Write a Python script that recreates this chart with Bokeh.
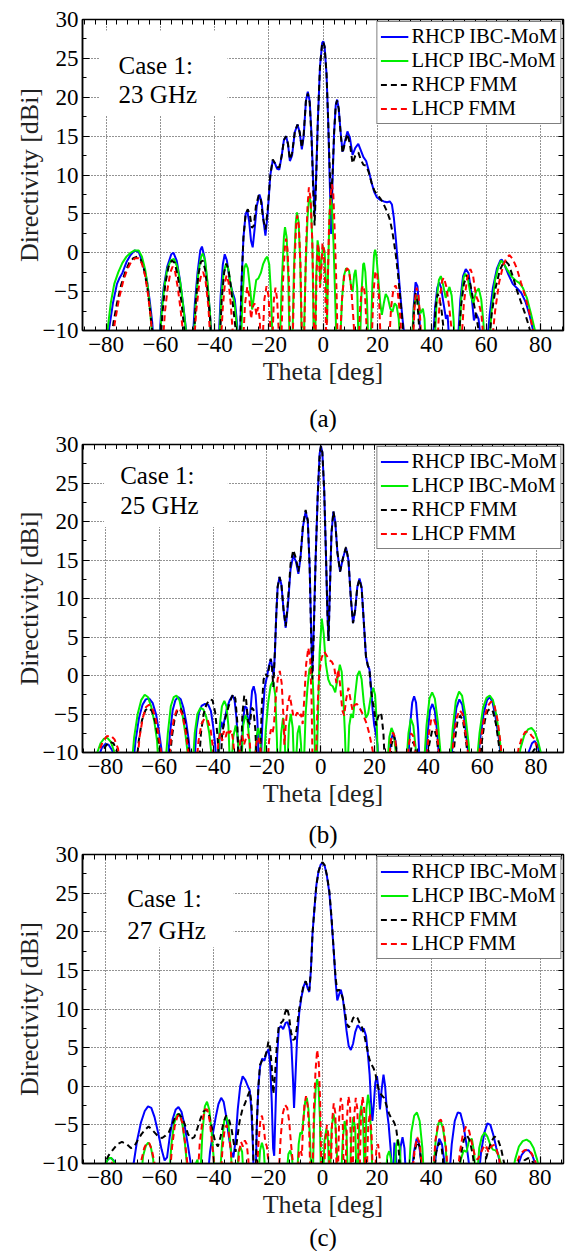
from bokeh.plotting import figure
from bokeh.models import (Legend, LegendItem, Label, BoxAnnotation, Title,
                          LinearAxis, FixedTicker, Range1d)
from bokeh.layouts import column
from bokeh.embed import file_html
from bokeh.resources import INLINE

FONT = "Liberation Serif"

# ---------------- data (theta [deg], directivity [dBi]) ----------------
A_RHCP_MOM = [(-80,-12),(-79,-10),(-77.5,-6.5),(-76,-4),(-75,-3.2),(-74,-2.6),(-72.5,-1.2),(-71,-0.3),(-69.5,0.3),(-68,0.1),(-66.5,-1.3),(-65,-3.5),(-64,-6),(-63,-9),(-62.4,-12),
(-60.5,-12),(-59.8,-8),(-58.8,-4.5),(-57.5,-1.8),(-56,-0.2),(-55.2,0),(-54,-1),(-52.8,-3.5),(-51.5,-7),(-50.5,-10),(-50,-12),
(-48.2,-12),(-47.3,-6.5),(-46.3,-2.5),(-45.3,0.3),(-44.7,0.8),(-43.8,-0.5),(-42.8,-3.5),(-41.8,-7.5),(-41,-12),
(-38.6,-12),(-37.8,-5.5),(-37,-1.5),(-36.3,-0.2),(-35.5,-1),(-34.5,-3.5),(-33.5,-5),(-32.6,-6),(-31.8,-9),(-31.2,-12),
(-30.6,-10),(-30,-3),(-29.4,2),(-28.6,5),(-28,5.4),(-27.3,4),(-26.6,1.5),(-26,0.7),(-25.3,3),(-24.5,6),(-23.5,7.5),(-22.7,6.5),(-22,4),(-21.3,2.2),(-20.5,5),(-19.5,10),(-18.6,11.9),(-17.8,11.5),(-17,10.8),(-16.2,10.7),(-15.3,12.5),(-14.5,14.5),(-13.7,15),(-13,14),(-12.3,11.8),(-11.5,12.5),(-10.5,15.5),(-9.5,16.5),(-8.7,15.5),(-7.9,13.3),(-7.2,15),(-6.4,19.5),(-5.7,20.7),(-5,19.5),(-4.3,15),(-3.7,9),(-3.2,5),(-2.7,9),(-2,17),(-1.2,24),(-0.4,27),(0,27.2),(0.5,26.5),(1.2,23),(1.8,17),(2.4,9),(2.9,2.4),(3.4,9),(4,15.5),(4.6,19),(5.1,19.7),(5.7,18.5),(6.4,15.5),(7.1,13),(7.9,14.2),(8.9,15.6),(9.8,14.8),(10.8,12.6),(11.8,13.5),(12.9,14),(13.8,13.2),(14.8,12.3),(15.8,11.8),(16.8,10.5),(17.8,9),(18.8,7.8),(19.8,7.1),(21,6.8),(22.3,6.6),(23.5,6.5),(24.5,6.6),(25.3,6.2),(26,4.5),(26.8,1.5),(27.6,-2),(28.4,-5.5),(29.2,-8.5),(30,-11),(30.4,-12),
(32.8,-12),(33.3,-7),(34,-3.8),(34.7,-4.3),(35.3,-7),(35.9,-12),
(40.3,-12),(41.2,-7),(42,-4.5),(42.7,-3.8),(43.4,-4.5),(44.3,-6.5),(45.2,-8.5),(45.8,-8),(46.5,-12),
(49.5,-12),(50.5,-6),(51.5,-3),(52.5,-2.1),(53.5,-2.6),(54.5,-5),(55.5,-8.7),(56.3,-7.8),(57.2,-8.5),(58.3,-12),
(60.3,-12),(61.3,-8),(62.5,-4.5),(64,-2),(65.2,-1),(65.8,-0.9),(66.8,-1.6),(68.2,-2.8),(69.8,-4),(71.5,-4.6),(73,-5.2),(74.5,-6.3),(76,-8),(77.3,-10),(78,-12)]

A_LHCP_MOM = [(-80.2,-12),(-79.5,-10),(-78.3,-6.5),(-77,-4),(-75.5,-2.5),(-74,-1.3),(-72.5,-0.5),(-71,0),(-69.5,0.3),(-68,0.3),(-66.8,-0.5),(-65.6,-2.2),(-64.6,-4.5),(-63.8,-7.5),(-63.2,-10),(-62.8,-12),
(-60.3,-12),(-59.6,-8),(-58.6,-4.5),(-57.4,-2),(-56.2,-1),(-55,-0.8),(-53.8,-1.8),(-52.6,-4),(-51.4,-7.5),(-50.6,-10),(-50.3,-12),
(-47.8,-12),(-47,-6.5),(-46,-2.5),(-45,-0.5),(-44.4,-0.1),(-43.5,-1),(-42.6,-4),(-41.7,-8),(-41.2,-12),
(-38.4,-12),(-37.6,-6),(-36.7,-2.5),(-35.8,-1.4),(-35,-2),(-34.2,-4),(-33.4,-5.5),(-32.7,-6.5),(-32,-9),(-31.4,-12),
(-30.3,-12),(-29.8,-6),(-29.1,-2),(-28.5,-1.4),(-27.8,-2),(-27,-4.5),(-26.2,-7.3),(-25.5,-5.5),(-24.7,-3.5),(-23.9,-3.3),(-23,-2.6),(-22.2,-1.5),(-21.3,-0.8),(-20.6,-0.5),(-19.9,-1.5),(-19.3,-5),(-18.8,-10),(-18.5,-12),
(-16,-12),(-15.3,-4),(-14.5,2),(-14.1,3.3),(-13.5,2),(-12.9,-3),(-12.4,-12),
(-11.4,-12),(-10.8,-2),(-10.1,4),(-9.7,5.2),(-9.1,4),(-8.5,-1),(-7.9,-12),
(-7.2,-12),(-6.5,-2),(-5.8,4.5),(-5.2,7.3),(-4.6,6.5),(-4,1),(-3.5,-12),
(-3.0,-12),(-2.6,-3),(-2.1,1.6),(-1.6,0.5),(-1.1,-4),(-0.7,-1),(-0.1,0.8),(0.5,0.2),(1,-4),(1.4,-9),(1.8,-2),(2.3,5),(2.7,7.2),(3.2,6),(3.8,1),(4.4,-6),(4.9,-12),
(6.2,-12),(6.9,-6),(7.6,-3),(8.4,-2),(9.5,-2.3),(10.3,-4.5),(10.8,-5),(11.4,-2.8),(11.9,-2.2),(12.5,-4.5),(13,-12),
(13.5,-12),(14.1,-5),(14.7,-1.5),(15,-1.3),(15.5,-2.5),(16.1,-6),(16.6,-12),
(17.4,-12),(18.1,-4),(18.7,-0.3),(19.1,0.4),(19.6,-0.5),(20.3,-3.5),(21,-6.5),(21.6,-8),(22.3,-6.5),(23,-5.3),(23.8,-5.8),(24.7,-7.2),(25.5,-7.6),(26.3,-6.5),(27,-6.8),(27.8,-8.5),(28.4,-12),
(32.5,-12),(33.4,-7),(34.2,-5.5),(35,-6.5),(35.8,-7.8),(36.7,-7.2),(37.3,-8.5),(37.7,-12),
(41,-12),(41.8,-6),(42.6,-3.5),(43.3,-3),(44.2,-4.2),(45.1,-5.8),(45.8,-5),(46.5,-4.4),(47.3,-5.5),(48,-8.5),(48.4,-12),
(50,-12),(50.8,-6),(51.7,-3.2),(52.3,-2.7),(53.2,-3.2),(54.3,-5.5),(55.3,-6.5),(56.3,-5),(57.3,-4.6),(58.2,-6),(59,-9),(59.5,-12),
(61,-12),(62,-7.5),(63.3,-3.5),(64.5,-1.8),(65.5,-1),(66.5,-1.4),(68,-2.3),(69.5,-3.1),(71,-3.6),(72.3,-3.9),(73.5,-4.5),(75,-5.8),(76.5,-7.8),(78,-10),(78.7,-12)]

A_RHCP_FMM = [(-78.3,-12),(-77.3,-9),(-76,-6.5),(-74.5,-4.2),(-73,-2.5),(-71.5,-1.3),(-70,-0.7),(-68.5,-0.5),(-67.2,-0.9),(-66,-2.2),(-64.8,-4.5),(-63.8,-7.5),(-63,-10),(-62.5,-12),
(-60,-12),(-59.3,-8),(-58.2,-4),(-57,-1.8),(-55.8,-1.0),(-54.7,-1.3),(-53.5,-3.2),(-52.3,-6.2),(-51.3,-9.5),(-50.8,-12),
(-47.8,-12),(-47,-6.5),(-46,-2.8),(-45.1,-1.2),(-44.4,-1.0),(-43.5,-2.2),(-42.6,-5),(-41.7,-8.5),(-41.2,-12),
(-38.2,-12),(-37.4,-6),(-36.5,-2.5),(-35.7,-1.4),(-34.9,-2.2),(-34,-4.5),(-33.2,-7),(-32.4,-9.5),(-31.9,-12),
(-30.6,-10),(-30,-3),(-29.4,2),(-28.6,5),(-27.8,5.6),(-27,4.8),(-26.3,3.2),(-25.6,3.5),(-24.8,6),(-23.8,7.4),(-23,6.8),(-22.2,4.5),(-21.3,3),(-20.5,5.5),(-19.5,10),(-18.6,12),(-17.8,11.5),(-17,11),(-16.2,11),(-15.3,12.5),(-14.5,14.5),(-13.7,15),(-13,14),(-12.3,12),(-11.5,12.8),(-10.5,15.5),(-9.5,16.5),(-8.7,15.5),(-7.9,13.5),(-7.2,15.3),(-6.4,19.5),(-5.7,20.5),(-5,19.3),(-4.3,14.5),(-3.7,8),(-3.2,3.5),(-2.7,8.5),(-2,17),(-1.2,24),(-0.4,27),(0,27.1),(0.5,26.5),(1.2,23),(1.8,17),(2.4,10.5),(2.9,7),(3.4,10),(4,15.5),(4.6,19),(5.1,19.6),(5.7,18.5),(6.4,15.3),(7.1,12.8),(7.9,14),(8.9,15.3),(9.8,14),(10.8,11.5),(11.8,12.5),(12.9,12.9),(13.8,12),(14.8,11.3),(15.8,11.2),(16.8,10.3),(17.8,9),(18.8,8),(19.8,7.5),(21,7),(22.3,6.2),(23.5,5.3),(24.5,4.3),(25.3,3),(26,1.5),(26.8,-0.5),(27.6,-3),(28.4,-6),(29.2,-9),(29.8,-12),
(32.8,-12),(33.4,-7.5),(34,-5.2),(34.6,-6),(35.2,-9),(35.5,-12),
(40.6,-12),(41.4,-7),(42.1,-5.3),(42.8,-5.8),(43.6,-7.5),(44.4,-10),(44.8,-12),
(49.8,-12),(50.7,-7),(51.8,-4),(52.9,-2.9),(53.9,-3.5),(55.2,-6),(56.5,-8.5),(57.5,-10.5),(58,-12),
(61,-12),(62,-8),(63.5,-4.5),(65,-2.3),(66.3,-1.3),(67.2,-1.1),(68.3,-1.5),(69.8,-3),(71.3,-4.8),(72.8,-6.3),(74.3,-7.8),(75.8,-9.5),(76.8,-11),(77.2,-12)]

A_LHCP_FMM = [(-77.8,-12),(-76.8,-9),(-75.3,-6),(-73.8,-3.8),(-72.3,-2.2),(-70.8,-1.2),(-69.3,-0.7),(-68,-0.7),(-66.8,-1.4),(-65.6,-3),(-64.5,-5.5),(-63.5,-8.5),(-62.8,-12),
(-59.2,-12),(-58.3,-7.5),(-57.3,-4.5),(-56.3,-2.5),(-55.5,-1.8),(-54.6,-2.4),(-53.6,-4.5),(-52.5,-7.5),(-51.6,-10.5),(-51.2,-12),
(-47.7,-12),(-46.8,-7.5),(-45.7,-4),(-44.8,-2.6),(-44.2,-2.5),(-43.3,-3.8),(-42.3,-7),(-41.5,-12),
(-37.8,-12),(-37,-7),(-36.2,-3.8),(-35.6,-2.9),(-34.9,-3.8),(-34.1,-6.5),(-33.5,-9.5),(-33.1,-12),
(-29.6,-12),(-28.8,-6.5),(-28,-4.4),(-27.3,-5.5),(-26.6,-8.5),(-26,-7),(-25.3,-6.5),(-24.6,-8),(-24,-7),(-23.4,-8.5),(-23,-12),
(-22.4,-12),(-21.7,-6),(-20.9,-4.3),(-20.2,-5.5),(-19.6,-9),(-19.3,-12),
(-18.8,-12),(-18.2,-6),(-17.6,-4.5),(-17,-6),(-16.5,-9.5),(-16.2,-12),
(-15.5,-12),(-14.8,-3.5),(-14.1,1),(-13.7,1.8),(-13.2,0.5),(-12.6,-4),(-12.2,-12),
(-11.3,-12),(-10.6,-1.5),(-10,3.5),(-9.6,4.8),(-9,3.5),(-8.4,-1.5),(-7.8,-12),
(-7.1,-12),(-6.4,0),(-5.8,6),(-5.3,8.4),(-4.7,7),(-4.1,2),(-3.6,-6),(-3.3,-12),
(-2.9,-12),(-2.5,-3),(-2,1.2),(-1.6,0),(-1.2,-4.5),(-0.8,-3),(-0.3,1.2),(0.2,0.5),(0.7,-4),(1.1,-12),
(1.5,-6),(2.1,3),(2.7,7.5),(3.2,8.8),(3.7,7.5),(4.3,2),(4.9,-5),(5.3,-12),
(6.1,-12),(6.9,-6),(7.7,-3),(8.7,-2),(9.5,-2.3),(10.3,-4.5),(11.2,-9),(11.6,-12),
(13,-12),(13.6,-7),(14.2,-4.6),(14.8,-4.2),(15.4,-5.5),(16,-10),(16.2,-12),
(17.8,-12),(18.5,-5),(19.2,-2.4),(19.8,-2.5),(20.5,-5.5),(21.2,-12),
(24.2,-12),(25,-7),(25.8,-4.8),(26.6,-4.2),(27.4,-5),(28.3,-8),(29,-12),
(33,-12),(33.7,-6.5),(34.4,-4.5),(35.1,-5.5),(35.8,-9),(36.1,-12),
(42,-12),(42.9,-6),(43.8,-3.6),(44.4,-3.2),(45.3,-4.3),(46.4,-7),(47.3,-10),(47.7,-12),
(50.8,-12),(51.8,-6.5),(53,-3.3),(54.2,-2.1),(55.2,-3),(56.2,-5.5),(57.2,-6.3),(58.3,-8),(59.2,-12),
(62,-12),(63.3,-7.5),(64.8,-3.8),(66.3,-1.6),(67.6,-0.6),(68.6,-0.3),(69.8,-0.8),(71.3,-2),(72.8,-3.8),(74.3,-5.5),(75.8,-7.5),(77.3,-10),(77.8,-12)]

B_RHCP_MOM = [(-83.5,-12),(-82.5,-10.5),(-81.3,-9.4),(-80,-8.9),(-78.8,-9),(-77.5,-9.7),(-76.3,-11),(-75.8,-12),
(-69.8,-12),(-68.8,-8.5),(-67.5,-5.5),(-66.2,-3.8),(-65,-3.1),(-63.7,-3),(-62.4,-3.6),(-61.2,-5),(-60.2,-7),(-59.2,-9.5),(-58.7,-12),
(-57,-12),(-56,-7.5),(-55,-4.5),(-54,-3.2),(-53,-2.8),(-52,-3.1),(-51,-4.2),(-50,-6),(-49,-8.5),(-48.3,-12),
(-47,-12),(-46.2,-7),(-45.2,-4.8),(-44.2,-3.9),(-43,-3.7),(-41.8,-3.8),(-40.8,-4.6),(-40,-6.5),(-39.2,-9),(-38.7,-12),
(-38.1,-12),(-37.5,-7.5),(-36.9,-6),(-36.3,-6.8),(-35.6,-5.5),(-34.8,-4.2),(-33.8,-3.2),(-32.8,-2.6),(-32,-3.2),(-31.3,-5.5),(-30.7,-9),(-30.3,-12),
(-29.6,-12),(-28.9,-6),(-28.2,-4),(-27.5,-4.2),(-26.8,-6.8),(-26.2,-5),(-25.5,-2),(-24.9,-1.4),(-24.2,-2.5),(-23.5,-6),(-23,-12),
(-22.3,-12),(-21.6,-5.5),(-20.8,-1.5),(-20,-0.2),(-19.2,1.3),(-18.5,2.1),(-18,1),(-17.5,0),(-17,3),(-16.5,8),(-16,11.5),(-15.3,12.8),(-14.6,11.8),(-13.8,8.5),(-13,6.2),(-12.2,9),(-11.2,13.8),(-10.2,15.6),(-9.2,14.8),(-8.3,13.2),(-7.5,15.3),(-6.6,19.3),(-5.6,21.3),(-4.8,20),(-4.1,14),(-3.5,5),(-3.1,0.5),(-2.6,6),(-1.9,15),(-1.1,23.5),(-0.4,28.8),(0.1,29.8),(0.6,29),(1.3,24),(2,15),(2.5,8),(2.9,4.5),(3.4,11),(4,18.5),(4.7,21.3),(5.4,20),(6.2,16),(7.2,13.5),(8.3,15.3),(9.4,16.6),(10.3,15),(11.2,10),(12,6.8),(12.8,8.5),(13.6,11.5),(14.4,12.6),(15.2,11.5),(16,7),(16.8,2.5),(17.5,1.3),(18.1,0.8),(18.7,-1.5),(19.3,-4.5),(19.9,-6.5),(20.5,-7.5),(21.1,-9),(21.5,-12),
(25.3,-12),(26,-8.5),(26.9,-7.5),(27.8,-8.5),(28.6,-12),
(32.4,-12),(33.2,-6.5),(34,-3.5),(34.7,-2.7),(35.4,-3.5),(36.2,-7),(36.8,-12),
(38.8,-12),(39.7,-7.5),(40.6,-4.5),(41.5,-3.7),(42.4,-4.6),(43.3,-7.5),(44.2,-12),
(48.3,-12),(49.3,-7.5),(50.4,-4.2),(51.5,-3.1),(52.6,-3.8),(53.7,-6.5),(54.8,-10),(55.3,-12),
(58.2,-12),(59.3,-8),(60.6,-4.8),(61.8,-3.2),(62.8,-2.8),(63.8,-3.4),(65,-5.5),(66.3,-8.5),(67.3,-12),
(76.2,-12),(77.2,-10),(78.5,-8.8),(79.5,-8.5),(80.5,-9),(81.5,-10.5),(82.2,-12)]

B_LHCP_MOM = [(-84,-12),(-83,-10),(-81.8,-8.8),(-80.5,-8.2),(-79.3,-8.1),(-78,-8.6),(-76.8,-9.8),(-76,-12),
(-70.3,-12),(-69.3,-8),(-68,-5),(-66.7,-3.2),(-65.4,-2.5),(-64.2,-2.8),(-63,-4),(-61.8,-6),(-60.8,-8.5),(-60.2,-12),
(-57.8,-12),(-56.8,-7.5),(-55.7,-4),(-54.6,-2.8),(-53.6,-2.6),(-52.5,-3.2),(-51.4,-5),(-50.3,-7.5),(-49.3,-10.5),(-48.9,-12),
(-47.6,-12),(-46.8,-7.5),(-45.8,-5),(-44.7,-4.2),(-43.6,-4.4),(-42.5,-5.4),(-41.4,-7.5),(-40.5,-10.5),(-40.1,-12),
(-38.3,-12),(-37.5,-6.5),(-36.7,-4),(-35.8,-3.3),(-35,-4),(-34.3,-6.5),(-33.7,-12),
(-33.2,-12),(-32.5,-8),(-31.6,-6.5),(-30.8,-8),(-30.2,-12),
(-29.5,-12),(-28.8,-6.5),(-28,-5.2),(-27.2,-5.8),(-26.5,-8.5),(-26,-12),
(-24.6,-12),(-23.9,-8),(-23.2,-6.8),(-22.5,-8),(-21.9,-12),
(-21.2,-12),(-20.4,-7),(-19.5,-3.5),(-18.6,-1.3),(-17.7,-0.7),(-16.9,-2.5),(-16.3,-8),(-16,-12),
(-15.3,-12),(-14.7,-7.5),(-14,-5.5),(-13.4,-8),(-13,-12),
(-12.4,-12),(-11.8,-6.5),(-11.1,-5),(-10.4,-6.8),(-9.9,-12),
(-9.3,-12),(-8.6,-7.5),(-7.9,-6.5),(-7.3,-9),(-7,-12),
(-6.3,-12),(-5.6,-5),(-4.9,-1.5),(-4.2,0.8),(-3.5,1.2),(-2.9,-1),(-2.4,-6),(-2,-12),
(-1.5,-12),(-1,-5),(-0.4,3),(0.4,7.4),(1.1,5.5),(1.9,1.5),(2.8,-0.5),(3.6,-1.2),(4.5,-1.4),(5.4,-2.2),(6.2,-0.5),(7.1,1.4),(7.8,0.5),(8.4,-3),(9,-7.5),(9.4,-12),
(10,-12),(10.6,-6.5),(11.3,-5),(12,-5.5),(12.8,-2.5),(13.6,0),(14.4,0.6),(15.2,-0.5),(16,-3.5),(16.8,-5.5),(17.6,-5),(18.5,-3),(19.5,-1.6),(20.2,-2.5),(20.8,-6),(21.3,-12),
(24.7,-12),(25.5,-8),(26.3,-6.8),(27.1,-7.5),(27.9,-10),(28.2,-12),
(31.7,-12),(32.6,-7.5),(33.5,-5.6),(34.4,-6.5),(35.3,-9.5),(35.7,-12),
(38.3,-12),(39.3,-6.5),(40.4,-3),(41.4,-2.2),(42.4,-3),(43.5,-6),(44.5,-10),(44.9,-12),
(48,-12),(49,-7),(50.2,-3.3),(51.4,-2.1),(52.5,-2.6),(53.7,-5),(55,-9),(55.5,-12),
(57.8,-12),(59,-7.5),(60.3,-4.2),(61.6,-2.9),(62.8,-2.6),(64,-3.2),(65.3,-5.2),(66.6,-8.5),(67.5,-12),
(73,-12),(74.2,-9.5),(75.6,-7.8),(77,-7),(78.3,-6.8),(79.5,-7.3),(80.7,-8.5),(82,-10.3),(82.8,-12)]

B_RHCP_FMM = [(-82.5,-12),(-81.5,-10.5),(-80,-9.2),(-78.5,-8.6),(-77,-8.8),(-75.5,-10),(-74.8,-12),
(-68.6,-12),(-67.6,-8.5),(-66.4,-5.8),(-65.1,-4.5),(-63.9,-4.2),(-62.7,-4.6),(-61.5,-6),(-60.3,-8.3),(-59.5,-10.5),(-59,-12),
(-56.3,-12),(-55.3,-8),(-54.2,-5.5),(-53.1,-4.4),(-52,-4.3),(-50.9,-5.2),(-49.8,-7.3),(-48.8,-10),(-48.3,-12),
(-45.3,-12),(-44.5,-7.5),(-43.5,-5),(-42.5,-3.8),(-41.3,-3.1),(-40.2,-3.2),(-39.2,-4.8),(-38.3,-8),(-37.7,-12),
(-37.2,-12),(-36.6,-7.5),(-35.8,-6),(-35,-5),(-34.2,-4),(-33.3,-3),(-32.5,-2.4),(-31.7,-3),(-31,-6),(-30.5,-12),
(-29.7,-12),(-29.1,-5),(-28.4,-2.6),(-27.7,-3.2),(-27,-6),(-26.3,-6.3),(-25.6,-4.2),(-25,-4.4),(-24.3,-7),(-23.7,-12),
(-22.6,-12),(-21.9,-4),(-21.2,-0.5),(-20.5,0.2),(-19.8,-0.2),(-19.2,1),(-18.6,2.2),(-18.1,1),(-17.6,-1.5),(-17.1,2.5),(-16.5,8),(-16,11.5),(-15.3,12.8),(-14.6,11.8),(-13.8,8.5),(-13,6.4),(-12.2,9.5),(-11.2,14.5),(-10.2,16.3),(-9.2,15.2),(-8.3,13.5),(-7.5,15.5),(-6.6,19.5),(-5.6,21.5),(-4.8,20.2),(-4.1,14),(-3.5,4),(-3.1,-0.5),(-2.6,5),(-1.9,15),(-1.1,23.5),(-0.4,28.8),(0.1,29.8),(0.6,29),(1.3,24),(2,15),(2.5,8),(2.9,4.5),(3.4,11),(4,18.5),(4.7,21.3),(5.4,20),(6.2,16),(7.2,13.5),(8.3,15.3),(9.4,16.7),(10.3,15),(11.2,10),(12,6.8),(12.8,8.5),(13.6,11.5),(14.4,12.5),(15.2,11.3),(16,7),(16.8,2.5),(17.5,1.3),(18.1,0.8),(18.6,-1.5),(19.2,-3.2),(19.9,-4.5),(20.6,-6.5),(21.2,-5.5),(21.9,-4.8),(22.6,-5.2),(23.3,-7.5),(23.9,-12),
(25.6,-12),(26.3,-9),(27.2,-7.8),(28,-9),(28.6,-12),
(32.7,-12),(33.6,-9.5),(34.4,-8.6),(35.2,-9.5),(35.8,-12),
(39.4,-12),(40.3,-9),(41.3,-7.3),(42.2,-7.0),(43.1,-8),(44,-11),(44.3,-12),
(48.8,-12),(49.8,-8.5),(50.8,-6),(51.8,-5.2),(52.8,-5.8),(53.8,-8),(54.8,-11),(55.2,-12),
(58.8,-12),(59.9,-8.5),(61,-5.8),(62,-4.6),(63,-4.3),(64,-4.7),(65.1,-6.3),(66.2,-9),(67,-12),
(77,-12),(78.2,-10.3),(79.3,-9.6),(80.4,-9.5),(81.5,-10.3),(82.3,-12)]

B_LHCP_FMM = [(-83.5,-12),(-82.5,-10),(-81,-8.6),(-79.5,-7.9),(-78,-7.8),(-76.6,-8.3),(-75.3,-9.5),(-74.5,-12),
(-68.3,-12),(-67.3,-8),(-66.1,-5.5),(-64.9,-4.1),(-63.8,-3.8),(-62.6,-4.2),(-61.4,-5.5),(-60.3,-7.5),(-59.3,-10),(-58.9,-12),
(-56.5,-12),(-55.6,-8),(-54.5,-5.5),(-53.4,-4.4),(-52.4,-4.3),(-51.3,-5.2),(-50.2,-7.3),(-49.2,-10),(-48.8,-12),
(-46.3,-12),(-45.4,-8.5),(-44.3,-6.3),(-43.2,-5.6),(-42,-5.8),(-40.9,-7),(-40,-9.5),(-39.6,-12),
(-38.6,-12),(-38,-8.5),(-37.3,-7.5),(-36.6,-8.5),(-36,-7.2),(-35.3,-8),(-34.6,-7),(-33.9,-7.5),(-33.2,-7.1),(-32.5,-8.5),(-31.8,-12),
(-30.6,-12),(-29.9,-8.5),(-29.2,-7.8),(-28.5,-9),(-27.8,-8.2),(-27.1,-7.6),(-26.4,-8.5),(-25.7,-12),
(-24.6,-12),(-23.9,-8.8),(-23.2,-8),(-22.5,-9),(-21.9,-12),
(-19.8,-12),(-19.2,-8.5),(-18.5,-7),(-17.9,-7.5),(-17.4,-6.5),(-16.7,-3),(-16,-0.5),(-15.2,0.6),(-14.5,-1),(-13.9,-5),(-13.5,-9),(-13,-6.5),(-12.3,-3.8),(-11.5,-2.6),(-10.8,-4),(-10.1,-5.4),(-9.4,-5.3),(-8.7,-4.8),(-8,-5.4),(-7.3,-5),(-6.7,-6.3),(-6.1,-3),(-5.4,1.5),(-4.6,3.6),(-3.9,2),(-3.4,-3),(-3,-12),
(-1.8,-12),(-1.3,-5),(-0.6,0),(0.3,2.3),(1.3,3.1),(2.2,2.6),(3.2,2),(4.1,1.8),(5,1.2),(5.8,-1),(6.5,0.8),(7.2,-1.2),(8,-4.5),(8.7,-5.2),(9.5,-3),(10.3,-1.6),(11.1,-3.2),(11.8,-4.5),(12.6,-3.8),(13.5,-3.7),(14.4,-4.2),(15.3,-4.8),(16.2,-5.5),(17.1,-6.3),(18,-7.5),(18.9,-9),(19.7,-10.5),(20,-12),
(25.3,-12),(26,-8.5),(26.8,-7.4),(27.6,-8),(28.3,-10.5),(28.6,-12),
(32,-12),(32.8,-8.8),(33.6,-7.5),(34.4,-7.9),(35.2,-10),(35.5,-12),
(39.2,-12),(40,-8),(41,-5.8),(41.9,-5.5),(42.8,-6.5),(43.7,-9),(44.3,-12),
(48.5,-12),(49.4,-8),(50.5,-5.5),(51.6,-4.5),(52.7,-5),(53.8,-7.5),(54.9,-10.5),(55.3,-12),
(58.3,-12),(59.4,-8.5),(60.7,-5.6),(62,-4),(63.3,-3.4),(64.5,-3.8),(65.7,-5.8),(66.9,-9),(67.5,-12),
(72.3,-12),(73.5,-9.5),(74.8,-8),(76,-7.3),(77.3,-7.3),(78.3,-7.8),(79.3,-8.2),(80.3,-9.3),(81.3,-11),(81.8,-12)]

C_RHCP_MOM = [(-80.6,-12),(-79.8,-10),(-78.8,-9.4),(-77.8,-9.3),(-76.8,-9.6),(-75.8,-11),(-75.3,-12),
(-70.3,-12),(-69.5,-10),(-68.2,-7),(-66.8,-4.7),(-65.4,-3.2),(-64.2,-2.6),(-63,-2.8),(-61.8,-4),(-60.5,-6),(-59.2,-8.2),(-58.1,-9.6),(-57.2,-9.2),(-56.2,-6.5),(-55.1,-4.2),(-54,-3),(-53,-2.7),(-51.9,-3.3),(-50.8,-5),(-49.6,-7.5),(-48.5,-10),(-48,-12),
(-42.3,-12),(-41.4,-8.5),(-40.3,-6),(-39.3,-4),(-38.3,-2.3),(-37.3,-1.5),(-36.4,-2),(-35.5,-3.8),(-34.5,-6.5),(-33.6,-8.5),(-32.8,-9.2),(-32,-7),(-31.2,-3),(-30.3,0),(-29.4,1.3),(-28.4,0.8),(-27.5,0),(-26.8,-0.5),(-26.2,-3),(-25.6,-8),(-25.3,-12),
(-24.6,-12),(-24.2,-5),(-23.6,0),(-23,2.5),(-22.2,3.6),(-21.4,3.3),(-20.6,4.3),(-19.9,4.8),(-19.3,3),(-18.7,-2),(-18.2,-8),(-17.8,-9),(-17.3,-3),(-16.7,4),(-16.1,7.5),(-15.3,7.8),(-14.5,7.4),(-13.6,8.2),(-12.9,8.3),(-12.2,7.5),(-11.5,5.5),(-10.9,1),(-10.5,-2.8),(-10,1),(-9.4,6),(-8.6,9.5),(-7.8,11.5),(-6.9,13),(-6.2,13.6),(-5.5,12.7),(-4.9,12.2),(-4.3,15),(-3.7,19.8),(-3,23),(-2.3,26),(-1.5,27.8),(-0.7,28.7),(0,28.9),(0.8,28.5),(1.6,27.2),(2.5,25),(3.3,21.5),(4.1,17.5),(4.8,13.5),(5.4,11.1),(6,11.8),(6.7,12.5),(7.4,11.5),(8.1,9.5),(8.8,7.2),(9.6,5.2),(10.4,4.7),(11.2,5.5),(12,7),(12.9,7.9),(13.6,7.6),(14.3,7.2),(15.1,7.5),(16,6.5),(16.7,4),(17.3,1.5),(17.8,-2),(18.3,-4.5),(18.8,-2.5),(19.4,0.5),(20,1.3),(20.6,-0.5),(21.1,-3),(21.7,-0.5),(22.4,1.5),(23,0),(23.6,-3),(24.3,-5),(25,-8),(25.6,-12),
(25.9,-12),(26.4,-7.3),(26.9,-8.5),(27.5,-12),
(28.1,-12),(28.7,-7.8),(29.4,-6.6),(30.1,-8),(30.7,-12),
(32.6,-12),(33.6,-8.5),(34.6,-6.8),(35.5,-7.5),(36.3,-10),(36.7,-12),
(40.8,-12),(41.8,-8.5),(42.9,-6.8),(43.9,-7.5),(44.9,-10),(45.3,-12),
(46.5,-12),(47.5,-7.5),(48.6,-4.5),(49.7,-3.4),(50.7,-3.5),(51.8,-5),(52.9,-7.5),(54,-10.5),(54.4,-12),
(57.3,-12),(58.3,-8.5),(59.5,-6),(60.6,-4.8),(61.7,-5),(62.8,-6.3),(63.9,-8),(65,-9.5),(65.8,-12),
(70.5,-12),(71.8,-10.3),(73.2,-8.9),(74.5,-8.3),(75.8,-8.3),(77.1,-8.9),(78.4,-10.2),(79.2,-12)]

C_LHCP_MOM = [(-80.5,-12),(-79.7,-10),(-78.7,-9.3),(-77.7,-9.3),(-76.7,-9.8),(-76,-12),
(-66.8,-12),(-66,-9),(-65,-7.7),(-64.1,-7.3),(-63.2,-7.8),(-62.3,-9.5),(-61.8,-12),
(-56.5,-12),(-55.6,-7.5),(-54.6,-4.8),(-53.6,-3.7),(-52.6,-3.6),(-51.6,-4.8),(-50.6,-7.5),(-49.8,-10.5),(-49.4,-12),
(-47.2,-12),(-46.6,-10),(-46,-9.5),(-45.4,-12),
(-45,-12),(-44.2,-6),(-43.3,-2.6),(-42.5,-2),(-41.7,-3),(-40.8,-6),(-40,-9.5),(-39.6,-12),
(-37.8,-12),(-37,-7.5),(-36.2,-4.5),(-35.4,-3.9),(-34.6,-5),(-33.8,-8),(-33.2,-12),
(-31.5,-12),(-30.9,-8.5),(-30.3,-7.8),(-29.6,-8.5),(-29,-12),
(-23.7,-12),(-23,-8.3),(-22.3,-7.3),(-21.6,-8.3),(-21,-12),
(-13.3,-12),(-12.6,-8.8),(-11.9,-8.3),(-11.2,-9.3),(-10.8,-12),
(-9.4,-12),(-8.8,-7.5),(-8.2,-6),(-7.6,-6.2),(-7,-4),(-6.4,-2),(-5.8,-1.5),(-5.2,-3),(-4.6,-7),(-4.1,-12),
(-3.6,-12),(-3.1,-4),(-2.5,0),(-2,0.9),(-1.5,0),(-1,-4),(-0.6,-12),
(0.2,-12),(0.7,-7),(1.4,-5.5),(2,-7),(2.4,-12),
(2.7,-12),(3.3,-5.5),(4,-3.6),(4.7,-4.8),(5.2,-8),(5.5,-12),
(6.8,-12),(7.4,-7),(8.1,-4.5),(8.8,-6),(9.3,-12),
(10,-12),(10.6,-6),(11.3,-4),(12,-5.5),(12.5,-12),
(12.9,-12),(13.5,-4.5),(14.2,-2.5),(14.9,-4.5),(15.4,-12),
(15.6,-12),(16.1,-3),(16.7,-1.1),(17.3,-2.5),(17.9,-7),(18.4,-12),
(23.2,-12),(23.8,-9),(24.5,-8.4),(25.2,-9.5),(25.6,-12),
(26.4,-12),(27,-7.8),(27.7,-6.9),(28.4,-8),(29,-12),
(31.6,-12),(32.6,-6),(33.7,-3.8),(34.7,-3.4),(35.7,-4.5),(36.7,-8),(37.3,-12),
(40.6,-12),(41.6,-7),(42.6,-4.8),(43.4,-4.5),(44.3,-5.5),(45.3,-8),(46,-12),
(49.8,-12),(50.8,-9.5),(51.9,-8.3),(52.9,-8.5),(53.9,-7),(54.9,-6.8),(55.7,-8.5),(56.3,-12),
(56.8,-12),(57.6,-8),(58.6,-6.5),(59.6,-6),(60.6,-6.5),(61.6,-7.5),(62.6,-8.2),(63.6,-8.3),(64.6,-8.8),(65.6,-10),(66.3,-12),
(69.5,-12),(70.8,-9.5),(72.2,-7.8),(73.6,-7.1),(75,-6.9),(76.3,-7.2),(77.6,-8),(78.9,-9.5),(80,-11.2),(80.5,-12)]

C_RHCP_FMM = [(-80.8,-12),(-80,-10),(-78.8,-9),(-77.3,-8.3),(-75.5,-7.5),(-73.8,-7.2),(-72,-7.5),(-70.5,-8),(-69.3,-7.8),(-68,-7),(-66.6,-6.2),(-65.2,-5.6),(-64,-5.2),(-62.8,-5.6),(-61.5,-6.1),(-60.2,-6.6),(-59,-6.7),(-57.8,-6.4),(-56.6,-6),(-55.4,-5),(-54.2,-4),(-53,-3.6),(-51.8,-4),(-50.6,-5),(-49.5,-6.2),(-48.3,-6.8),(-47.2,-6.6),(-46.1,-5.5),(-45,-4.3),(-43.9,-3.3),(-42.8,-3),(-41.7,-3.8),(-40.6,-5.5),(-39.5,-7.2),(-38.5,-7.8),(-37.5,-6.5),(-36.5,-4.8),(-35.5,-3.8),(-34.5,-4.2),(-33.5,-5.5),(-32.6,-7.5),(-32,-8.5),(-31.3,-6.5),(-30.5,-4.5),(-29.5,-3),(-28.5,-2.2),(-27.5,-1.2),(-26.8,-0.6),(-26.2,-2),(-25.7,-6),(-25.3,-12),
(-24.6,-12),(-24.2,-5),(-23.6,0),(-23,2.8),(-22.2,3.4),(-21.4,3.6),(-20.6,4.5),(-19.9,5.8),(-19.3,5),(-18.7,2.5),(-18.1,-1),(-17.5,1.5),(-16.8,5.5),(-16.1,7.8),(-15.3,8.2),(-14.5,8.5),(-13.8,9.5),(-13.1,10.2),(-12.4,9.2),(-11.6,7),(-10.9,6),(-10.2,6.1),(-9.5,7.5),(-8.6,10),(-7.8,11.7),(-6.9,13.2),(-6.2,13.6),(-5.5,12.8),(-4.9,12.4),(-4.3,15),(-3.7,19.8),(-3,23),(-2.3,26),(-1.5,27.8),(-0.7,28.7),(0,29),(0.8,28.6),(1.6,27.3),(2.5,25.2),(3.3,21.8),(4.1,17.5),(4.8,14),(5.4,12.3),(6,12.5),(6.7,12.2),(7.4,11.4),(8.1,10),(8.8,8.2),(9.6,7.6),(10.4,8),(11.2,8.8),(12,9.1),(12.9,8.8),(13.6,8.2),(14.5,7.6),(15.4,6.5),(16.3,5),(17.2,3.5),(18,2.8),(18.8,2.3),(19.5,1.5),(20.3,0),(21,-0.8),(21.8,-1.2),(22.6,-1.5),(23.5,-2.5),(24.4,-3.5),(25.3,-4.2),(26.2,-4.6),(27,-5.3),(27.8,-7.5),(28.4,-10),(28.8,-12),
(32.8,-12),(33.8,-8.5),(34.8,-7.2),(35.7,-7.8),(36.5,-10.5),(36.8,-12),
(40.8,-12),(41.8,-8.5),(42.8,-7.3),(43.8,-8),(44.8,-11),(45.1,-12),
(49.8,-12),(50.8,-9),(51.9,-7),(53,-6.3),(54.1,-7),(55.2,-8.8),(56,-11),(56.4,-12),
(58.5,-12),(59.6,-10),(60.8,-8.5),(62,-7.2),(63.2,-6.5),(64.4,-6.8),(65.6,-8),(66.8,-10),(67.5,-12),
(71.5,-12),(72.8,-10.5),(74.2,-9.6),(75.6,-9.3),(77,-9.6),(78.3,-10.5),(79,-12)]

C_LHCP_FMM = [(-80.3,-12),(-79.5,-10.5),(-78.5,-9.8),(-77.5,-9.9),(-76.6,-11),(-76.2,-12),
(-67.5,-12),(-66.6,-9.5),(-65.6,-8),(-64.6,-7.3),(-63.7,-7.4),(-62.7,-8.4),(-61.8,-10),(-61.3,-12),
(-56.3,-12),(-55.4,-8),(-54.4,-5.2),(-53.4,-3.9),(-52.5,-3.7),(-51.5,-4.8),(-50.5,-7.5),(-49.6,-10.5),(-49.2,-12),
(-46,-12),(-45.2,-7.5),(-44.2,-4.5),(-43.3,-3),(-42.4,-3),(-41.5,-4.5),(-40.6,-7.5),(-39.8,-10.5),(-39.4,-12),
(-37.5,-12),(-36.8,-8),(-36,-5.5),(-35.3,-5),(-34.5,-6),(-33.7,-8.5),(-33.2,-12),
(-31.3,-12),(-30.7,-8.5),(-30,-7.2),(-29.3,-7.8),(-28.6,-7),(-27.9,-7.5),(-27.3,-9.5),(-27,-12),
(-24.3,-12),(-23.6,-7.5),(-22.9,-4.5),(-22.3,-3.8),(-21.7,-5),(-21.1,-7.2),(-20.5,-7.8),(-20,-9.5),(-19.7,-12),
(-16.2,-12),(-15.4,-6.5),(-14.6,-3.5),(-13.8,-2.4),(-13,-2.8),(-12.3,-4.5),(-11.6,-7.5),(-11.1,-9.3),(-10.6,-12),
(-9.2,-12),(-8.7,-8.5),(-8.1,-8.2),(-7.6,-9),(-7.3,-6),(-6.7,-2.5),(-6.1,-1.3),(-5.5,-2.5),(-4.9,-6),(-4.5,-12),
(-3.7,-12),(-3.2,-3),(-2.6,2),(-2,4.7),(-1.4,3),(-0.9,-2),(-0.4,-12),
(0.5,-12),(1,-7),(1.6,-5),(2.2,-6.5),(2.6,-12),
(3,-12),(3.5,-4.5),(4.1,-2.2),(4.7,-3.5),(5.2,-12),
(5.6,-12),(6.1,-4),(6.7,-1.5),(7.3,-2.5),(7.8,-12),
(8.4,-12),(8.9,-4.5),(9.5,-1.3),(10.1,-2.5),(10.6,-12),
(11,-12),(11.6,-4),(12.2,-1.5),(12.8,-3),(13.3,-12),
(13.6,-12),(14.1,-4),(14.7,-1.3),(15.3,-3),(15.8,-12),
(16.2,-12),(16.8,-5),(17.4,-3.5),(18,-6),(18.5,-12),
(19.2,-12),(19.8,-8),(20.4,-7.5),(21,-9.3),(21.3,-12),
(32.8,-12),(33.8,-8.3),(34.8,-6.6),(35.7,-7.3),(36.5,-10.5),(36.8,-12),
(40.5,-12),(41.5,-7),(42.6,-4.6),(43.5,-4.3),(44.4,-5.3),(45.4,-8),(46.2,-12),
(49.5,-12),(50.5,-8.5),(51.6,-6.2),(52.8,-5.2),(53.9,-5.8),(55,-7.5),(56,-9),(57,-9.5),(58,-8.8),(59,-8),(60,-7.6),(61,-8.5),(62,-7.8),(63,-7.6),(64,-8.2),(65,-9.5),(65.8,-12),
(70,-12),(71.3,-10),(72.7,-8.8),(74.1,-8.3),(75.5,-8.2),(76.9,-8.7),(78.3,-9.8),(79.3,-11.2),(79.7,-12)]

SERIES_NAMES = ["RHCP IBC-MoM", "LHCP IBC-MoM", "RHCP FMM", "LHCP FMM"]
X_TICKS = [-80, -60, -40, -20, 0, 20, 40, 60, 80]
Y_TICKS = [-10, -5, 0, 5, 10, 15, 20, 25, 30]
FREQ_LABELS = ["23 GHz", "25 GHz", "27 GHz"]
CAPTIONS = ["(a)", "(b)", "(c)"]

STYLES = [dict(line_color="#0000ff", line_width=2),
          dict(line_color="#00ee00", line_width=2),
          dict(line_color="black", line_width=2, line_dash="6 4"),
          dict(line_color="#ff0000", line_width=2, line_dash="6 4")]

X_MINOR = [v for v in range(-88, 92, 4)]
Y_MINOR = [v / 2 for v in range(-20, 61, 5)]


def style_axis(ax, ticks, minor, label_standoff, title_standoff):
    ax.ticker = FixedTicker(ticks=ticks, minor_ticks=minor)
    ax.major_tick_in = 7
    ax.major_tick_out = 0
    ax.minor_tick_in = 4
    ax.minor_tick_out = 0
    ax.major_tick_line_color = "black"
    ax.minor_tick_line_color = "black"
    ax.major_tick_line_width = 1.2
    ax.minor_tick_line_width = 1
    ax.axis_line_color = "black"
    ax.axis_line_width = 1.5
    ax.major_label_text_font = FONT
    ax.major_label_text_font_size = "23px"
    ax.major_label_text_color = "black"
    ax.major_label_standoff = label_standoff
    ax.axis_label_text_font = FONT
    ax.axis_label_text_font_size = "26px"
    ax.axis_label_text_font_style = "normal"
    ax.axis_label_text_color = "#222222"
    ax.axis_label_standoff = title_standoff


def tick_only_axis(positions):
    # an unlabelled axis carrying only small inward tick marks
    ax = LinearAxis(ticker=FixedTicker(ticks=[], minor_ticks=positions))
    ax.minor_tick_in = 5
    ax.minor_tick_out = 0
    ax.minor_tick_line_color = "black"
    ax.minor_tick_line_width = 1
    ax.major_tick_in = 0
    ax.major_tick_out = 0
    ax.axis_line_color = None
    ax.major_label_standoff = 0
    return ax


def caption_title(text, standoff, valign):
    return Title(text=text, align="center", vertical_align=valign,
                 text_font=FONT, text_font_size="25px",
                 text_font_style="normal", text_color="black",
                 standoff=standoff)


def make_panel(curves, freq, height, top, left, right, bottom, xr,
               box, text_x, text_y, above_caption=None, below_caption=None):
    p = figure(width=566, height=height, x_range=Range1d(*xr),
               y_range=Range1d(-10, 30), output_backend="svg",
               toolbar_location=None, min_border_left=left,
               min_border_right=right, min_border_top=top,
               min_border_bottom=bottom)
    p.background_fill_color = "white"
    p.border_fill_color = "white"
    p.outline_line_color = "black"
    p.outline_line_width = 1.5
    p.outline_line_alpha = 1

    style_axis(p.xaxis[0], X_TICKS, X_MINOR, 6, 2)
    style_axis(p.yaxis[0], Y_TICKS, Y_MINOR, 4, -4)
    p.xaxis[0].axis_label = "Theta [deg]"
    p.yaxis[0].axis_label = "Directivity [dBi]"

    p.add_layout(tick_only_axis(X_TICKS + X_MINOR), "above")
    p.add_layout(tick_only_axis(Y_TICKS + Y_MINOR), "right")

    p.xgrid.ticker = FixedTicker(ticks=X_TICKS)
    p.ygrid.ticker = FixedTicker(ticks=Y_TICKS)
    for g in (p.xgrid[0], p.ygrid[0]):
        g.grid_line_color = "black"
        g.grid_line_dash = "1 2"
        g.grid_line_width = 1
        g.grid_line_alpha = 0.85

    renderers = []
    for data, st in zip(curves, STYLES):
        xs = [d[0] for d in data]
        ys = [d[1] for d in data]
        renderers.append(p.line(xs, ys, **st))

    # white box behind the case text
    p.add_layout(BoxAnnotation(left=box[0], right=box[1], bottom=box[2],
                               top=box[3], fill_color="white", fill_alpha=1,
                               line_color=None))
    p.add_layout(Label(x=text_x, y=text_y[0], text="Case 1:",
                       text_font=FONT, text_font_size="25px",
                       text_baseline="middle", text_color="black"))
    p.add_layout(Label(x=text_x, y=text_y[1], text=freq,
                       text_font=FONT, text_font_size="25px",
                       text_baseline="middle", text_color="black"))

    legend = Legend(items=[LegendItem(label=n, renderers=[r])
                           for n, r in zip(SERIES_NAMES, renderers)],
                    location="top_right")
    legend.margin = 2
    legend.padding = 3
    legend.spacing = 1
    legend.label_height = 23
    legend.glyph_height = 23
    legend.glyph_width = 28
    legend.label_standoff = 3
    legend.label_text_font = FONT
    legend.label_text_font_size = "20.5px"
    legend.label_text_color = "black"
    legend.border_line_color = "black"
    legend.border_line_width = 1.5
    legend.background_fill_alpha = 1
    p.add_layout(legend)

    # sub-figure captions: the caption of the panel above is drawn in the
    # top margin of the next panel so the stacked layout keeps its spacing
    if above_caption is not None:
        p.add_layout(caption_title(above_caption[0], above_caption[1], "top"),
                     "above")
    if below_caption is not None:
        p.add_layout(caption_title(below_caption[0], below_caption[1],
                                   "bottom"), "below")
    return p


pa = make_panel([A_RHCP_MOM, A_LHCP_MOM, A_RHCP_FMM, A_LHCP_FMM],
                FREQ_LABELS[0], 388, 19, 82, 2, 57, (-88.7, 88.5),
                (-82.4, -35.3, 17.7, 28.6), -75.4, (24.1, 20.3))
pb = make_panel([B_RHCP_MOM, B_LHCP_MOM, B_RHCP_FMM, B_LHCP_FMM],
                FREQ_LABELS[1], 422, 56, 78, 3, 57, (-88.5, 90.2),
                (-80.5, -34.5, 19.3, 29.4), -74.5, (26.0, 22.1),
                above_caption=(CAPTIONS[0], 22))
pc = make_panel([C_RHCP_MOM, C_LHCP_MOM, C_RHCP_FMM, C_LHCP_FMM],
                FREQ_LABELS[2], 441, 44, 82, 1, 88, (-88.3, 88.6),
                (-79.5, -32.7, 18.0, 29.3), -71.8, (24.3, 20.2),
                above_caption=(CAPTIONS[1], 10),
                below_caption=(CAPTIONS[2], 0))

layout = column(pa, pb, pc, spacing=0)
open("out.html", "w").write(file_html(layout, INLINE))
